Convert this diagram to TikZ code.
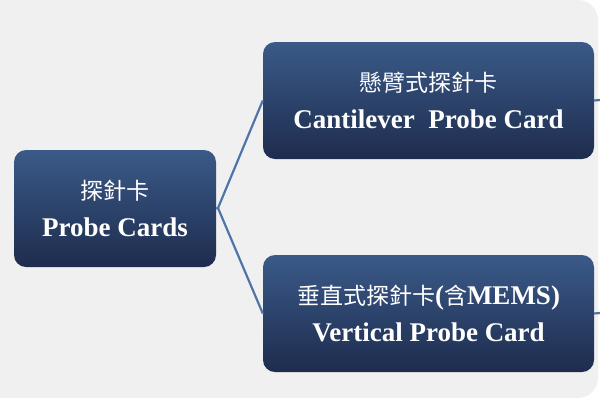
\documentclass[tikz,border=0pt]{standalone}
\usepackage{fontspec}
\setmainfont{Liberation Serif}
\newfontfamily\cjk{Noto Sans CJK TC}
\definecolor{bg}{HTML}{F0F0F0}
\definecolor{boxtop}{HTML}{3A5A88}
\definecolor{boxbot}{HTML}{1E2C4E}
\definecolor{link}{HTML}{4F74A8}
\newcommand{\zh}[1]{{\cjk\mdseries\fontsize{23}{36}\selectfont #1}}
\begin{document}
\begin{tikzpicture}[x=1pt,y=-1pt,
  card/.style={rounded corners=12pt, top color=boxtop, bottom color=boxbot, draw=none,
    text=white, align=center, font=\bfseries\fontsize{27}{37}\selectfont, inner sep=0pt},
  link/.style={draw=link, line width=2.2pt}]
\useasboundingbox (0,0) rectangle (600,400);
\fill[white] (0,0) rectangle (600,400);
\fill[bg, rounded corners=20pt] (-30,0) rectangle (598,398);
\node[card, minimum width=202pt, minimum height=117pt] (root) at (115,208.5) {\zh{探針卡}\\Probe Cards};
\node[card, minimum width=331pt, minimum height=117pt] (cant) at (428.5,100.5) {\zh{懸臂式探針卡}\\Cantilever\ \ Probe Card};
\node[card, minimum width=331pt, minimum height=117pt] (vert) at (428.5,313.5) {\zh{垂直式探針卡}(\zh{含}MEMS)\\Vertical Probe Card};
\coordinate (j) at (218,208);
\coordinate (e1) at (600,100);
\coordinate (e2) at (600,313);
\draw[link] (root.east) -- (j) -- (cant.west);
\draw[link] (j) -- (vert.west);
\draw[link] (cant.east) -- (e1);
\draw[link] (vert.east) -- (e2);
\end{tikzpicture}
\end{document}
